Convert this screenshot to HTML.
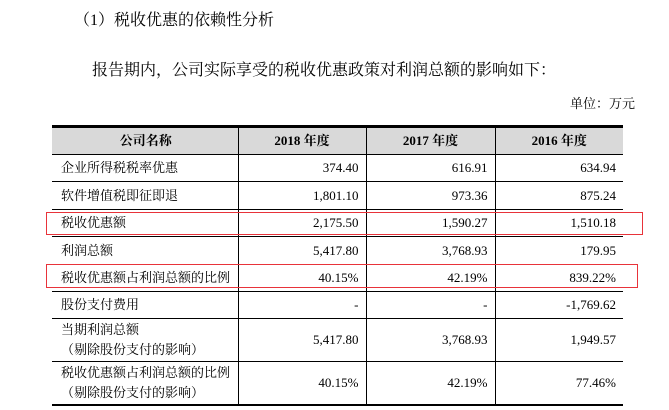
<!DOCTYPE html>
<html><head><meta charset="utf-8"><style>
body{margin:0;width:669px;height:410px;background:#fff;overflow:hidden;position:relative;font-family:"Liberation Serif","Noto Serif CJK SC",serif;color:#000}
.t{position:absolute;white-space:nowrap}
table{position:absolute;left:52px;top:125px;width:571px;border-collapse:collapse;font-size:13px}
td{border-left:1px solid #000;border-right:1px solid #000;border-bottom:1px solid #000;padding:0 7px;text-align:right;line-height:20px}
td:first-child{text-align:left;border-left:none;padding-left:9px}
td:last-child{border-right:none}
tr.h td{background:#d9d9d9;font-weight:bold;text-align:center;height:26px;border-top:3px solid #000}
.box{position:absolute;border:1.5px solid #e8333a}
</style></head><body>
<div class="t" style="left:74px;top:7px;font-size:16px">（1）税收优惠的依赖性分析</div>
<div class="t" style="left:92px;top:57px;font-size:16px">报告期内，公司实际享受的税收优惠政策对利润总额的影响如下：</div>
<div class="t" style="left:570px;top:93px;font-size:13px">单位：万元</div>
<table>
<colgroup><col style="width:186px"><col style="width:128px"><col style="width:129px"><col style="width:128px"></colgroup>
<tr class="h"><td style="text-align:center">公司名称</td><td>2018 年度</td><td>2017 年度</td><td>2016 年度</td></tr>
<tr style="height:27px"><td>企业所得税税率优惠</td><td>374.40</td><td>616.91</td><td>634.94</td></tr>
<tr style="height:28px"><td>软件增值税即征即退</td><td>1,801.10</td><td>973.36</td><td>875.24</td></tr>
<tr style="height:27px"><td>税收优惠额</td><td>2,175.50</td><td>1,590.27</td><td>1,510.18</td></tr>
<tr style="height:28px"><td>利润总额</td><td>5,417.80</td><td>3,768.93</td><td>179.95</td></tr>
<tr style="height:27px"><td>税收优惠额占利润总额的比例</td><td>40.15%</td><td>42.19%</td><td>839.22%</td></tr>
<tr style="height:27px"><td>股份支付费用</td><td>-</td><td>-</td><td>-1,769.62</td></tr>
<tr style="height:43px"><td>当期利润总额<br>（剔除股份支付的影响）</td><td>5,417.80</td><td>3,768.93</td><td>1,949.57</td></tr>
<tr style="height:43px"><td style="border-bottom:2px solid #000">税收优惠额占利润总额的比例<br>（剔除股份支付的影响）</td><td style="border-bottom:2px solid #000">40.15%</td><td style="border-bottom:2px solid #000">42.19%</td><td style="border-bottom:2px solid #000">77.46%</td></tr>
</table>
<div class="box" style="left:46px;top:212px;width:595px;height:21px"></div>
<div class="box" style="left:46px;top:264px;width:590px;height:22px"></div>
</body></html>
